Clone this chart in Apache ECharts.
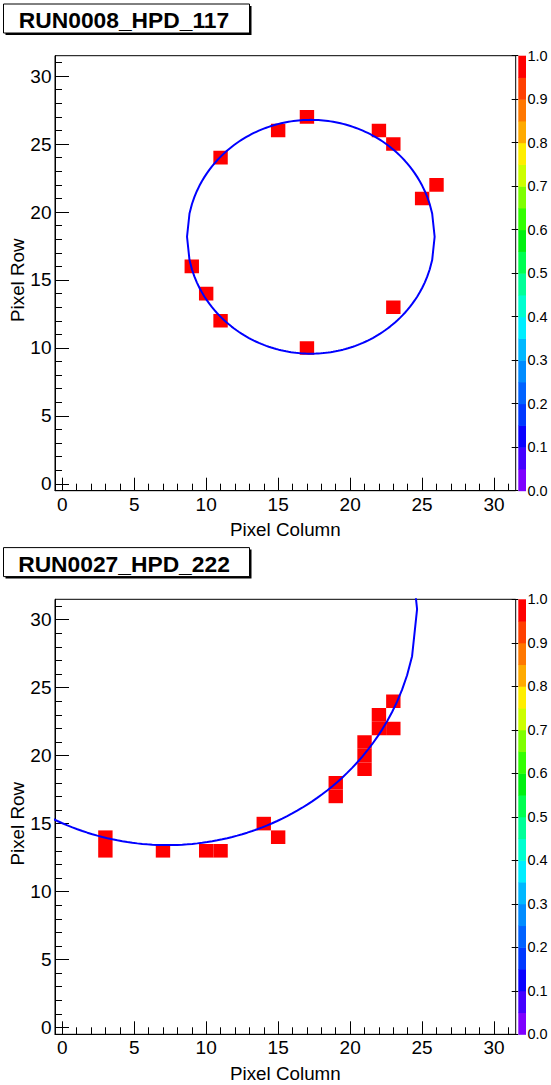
<!DOCTYPE html>
<html><head><meta charset="utf-8">
<script src="https://cdn.jsdelivr.net/npm/echarts@6/dist/echarts.min.js"></script>
<style>html,body{margin:0;padding:0;background:#fff}#c{width:551px;height:1085px}</style>
</head><body><div id="c"></div>
<script>
// ---------- data ----------
const panelTitles = ['RUN0008_HPD_117', 'RUN0027_HPD_222'];
// [pixel column, pixel row, content]
const hitsTop = [[17,27,1],[15,26,1],[22,26,1],[23,25,1],[11,24,1],[26,22,1],[25,21,1],
                 [9,16,1],[10,14,1],[11,12,1],[23,13,1],[17,10,1]];
const hitsBottom = [[3,14,1],[3,13,1],[7,13,1],[10,13,1],[11,13,1],[14,15,1],[15,14,1],
                    [19,18,1],[19,17,1],[21,21,1],[21,20,1],[21,19,1],[22,23,1],[22,22,1],
                    [23,22,1],[23,24,1]];
// fitted ring: [centre column, centre row, radius]
const ringTop = [17.27, 18.18, 8.6];
const ringBottom = [7.3, 30.77, 17.35];
const majorTicks = [0,5,10,15,20,25,30];
const minorTicks = [0,1,2,3,4,5,6,7,8,9,10,11,12,13,14,15,16,17,18,19,20,21,22,23,24,25,26,27,28,29,30,31];
const axisRange = [-0.5, 31.5];
const zRange = [0, 1];
const palette = ['#7f00ff','#4400ff','#0a00ff','#0038ff','#0062ff','#008cff','#00b8ff','#00eeff',
                 '#00ffd0','#00ff98','#00ff50','#00f010','#33ff00','#7fff00','#ccff00','#ffee00',
                 '#ffaa00','#ff7700','#ff3f00','#ff0000'];
const xTitle = 'Pixel Column';
const yTitle = 'Pixel Row';

// ---------- helpers ----------
function colorFor(v) {
  const n = palette.length;
  let i = Math.floor((v - zRange[0]) / (zRange[1] - zRange[0]) * n);
  if (i >= n) i = n - 1; if (i < 0) i = 0;
  return palette[i];
}
function ringPoints(ring, n) {
  const [cx, cy, r] = ring;
  const lower = [], upper = [];
  for (let i = 0; i <= n; i++) {
    const x = cx - r + 2 * r * i / n;
    const d = Math.sqrt(Math.max(0, r * r - (x - cx) * (x - cx)));
    lower.push([x, cy - d]);
    upper.push([x, cy + d]);
  }
  return lower.concat(upper.reverse());
}

const FONT = 'Liberation Sans, Arial, Helvetica, sans-serif';
const panelTop = [55.7, 599.3];
const plotLeft = 55, plotW = 460.7, plotH = 435;
const offs = [0, 543.6];

const grid = [], xAxis = [], yAxis = [], series = [], graphic = [];
[0, 1].forEach(p => {
  grid.push({left: plotLeft, top: panelTop[p], width: plotW, height: plotH,
             containLabel: false, outerBoundsMode: 'none',
             show: true, borderColor: '#000', borderWidth: 1, backgroundColor: 'rgba(0,0,0,0)'});
});
[0, 1].forEach(p => {
  grid.push({left: 518.3, top: panelTop[p], width: 7.7, height: plotH,
             containLabel: false, outerBoundsMode: 'none'});
});

[0, 1].forEach(p => {
  // major x axis
  xAxis.push({gridIndex: p, type: 'value', min: axisRange[0], max: axisRange[1], position: 'bottom',
    axisLine: {show: true, onZero: false, lineStyle: {color: '#000', width: 1}},
    axisTick: {show: true, inside: true, length: 13, customValues: majorTicks, lineStyle: {color: '#000', width: 1}},
    axisLabel: {show: true, customValues: majorTicks, fontSize: 19, margin: 4, color: '#000', fontFamily: FONT},
    splitLine: {show: false},
    name: xTitle, nameLocation: 'middle', nameGap: 29.5, nameMoveOverlap: false,
    nameTextStyle: {fontSize: 18.8, color: '#000', fontFamily: FONT}});
  // minor x axis
  xAxis.push({gridIndex: p, type: 'value', min: axisRange[0], max: axisRange[1], position: 'bottom',
    axisLine: {show: false, onZero: false},
    axisTick: {show: true, inside: true, length: 7, customValues: minorTicks, lineStyle: {color: '#000', width: 1}},
    axisLabel: {show: false}, splitLine: {show: false}});
  // major y axis
  yAxis.push({gridIndex: p, type: 'value', min: axisRange[0], max: axisRange[1], position: 'left',
    axisLine: {show: true, onZero: false, lineStyle: {color: '#000', width: 1}},
    axisTick: {show: true, inside: true, length: 14, customValues: majorTicks, lineStyle: {color: '#000', width: 1}},
    axisLabel: {show: true, customValues: majorTicks, fontSize: 19, margin: 3.5, color: '#000', fontFamily: FONT},
    splitLine: {show: false},
    name: yTitle, nameLocation: 'middle', nameGap: 28.5, nameMoveOverlap: false,
    nameTextStyle: {fontSize: 18.8, color: '#000', fontFamily: FONT, padding: [0, 14, 0, 0]}});
  // minor y axis
  yAxis.push({gridIndex: p, type: 'value', min: axisRange[0], max: axisRange[1], position: 'left',
    axisLine: {show: false, onZero: false},
    axisTick: {show: true, inside: true, length: 7, customValues: minorTicks, lineStyle: {color: '#000', width: 1}},
    axisLabel: {show: false}, splitLine: {show: false}});
});
[0, 1].forEach(p => {
  xAxis.push({gridIndex: 2 + p, type: 'value', min: 0, max: 1, show: false});
});
[0, 1].forEach(p => {
  yAxis.push({gridIndex: 2 + p, type: 'value', min: zRange[0], max: zRange[1], interval: 0.1, position: 'left',
    axisLine: {show: false, onZero: false},
    axisTick: {show: true, inside: false, length: 6.6, lineStyle: {color: '#000', width: 1}},
    axisLabel: {show: false}, splitLine: {show: false}});
  yAxis.push({gridIndex: 2 + p, type: 'value', min: zRange[0], max: zRange[1], interval: 0.1, position: 'right',
    axisLine: {show: false, onZero: false}, axisTick: {show: false},
    axisLabel: {show: true, margin: 1.5, fontSize: 14.5, color: '#000', fontFamily: FONT,
                formatter: v => v.toFixed(1)},
    splitLine: {show: false}});
});

const hitSets = [hitsTop, hitsBottom];
const rings = [ringTop, ringBottom];
[0, 1].forEach(p => {
  series.push({
    type: 'custom', xAxisIndex: p * 2, yAxisIndex: p * 2, data: hitSets[p],
    encode: {x: 0, y: 1}, clip: true, silent: true,
    renderItem: (params, api) => {
      const c = api.value(0), r = api.value(1), v = api.value(2);
      const a = api.coord([c - 0.5, r + 0.5]);
      const b = api.coord([c + 0.5, r - 0.5]);
      return {type: 'rect', shape: {x: a[0], y: a[1], width: b[0] - a[0], height: b[1] - a[1]},
              style: {fill: colorFor(v), stroke: null}};
    }
  });
  series.push({
    type: 'line', xAxisIndex: p * 2, yAxisIndex: p * 2, data: ringPoints(rings[p], 100),
    showSymbol: false, symbol: 'none', clip: true, silent: true, z: 5,
    lineStyle: {color: '#0000ff', width: 2}
  });
  series.push({
    type: 'custom', xAxisIndex: 4 + p, yAxisIndex: 4 + p * 2,
    data: palette.map((col, i) => [i]), silent: true,
    renderItem: (params, api) => {
      const i = api.value(0);
      const step = (zRange[1] - zRange[0]) / palette.length;
      const a = api.coord([0, zRange[0] + (i + 1) * step]);
      const b = api.coord([1, zRange[0] + i * step]);
      return {type: 'rect', shape: {x: a[0], y: a[1], width: b[0] - a[0], height: b[1] - a[1] + 0.5},
              style: {fill: palette[i]}};
    }
  });
  // title box (ROOT style, with drop shadow)
  graphic.push({type: 'rect', shape: {x: 5.5, y: 6 + offs[p], width: 246, height: 29}, style: {fill: '#000'}, z: 10});
  graphic.push({type: 'rect', shape: {x: 3.5, y: 4 + offs[p], width: 246, height: 29},
                style: {fill: '#fff', stroke: '#000', lineWidth: 1}, z: 11});
  graphic.push({type: 'text', x: 124, y: 20 + offs[p], z: 12,
                style: {text: panelTitles[p], font: 'bold 22.8px ' + FONT, fill: '#000',
                        textAlign: 'center', textVerticalAlign: 'middle'}});
});

const chart = echarts.init(document.getElementById('c'), null, {renderer: 'svg', width: 551, height: 1085});
chart.setOption({
  animation: false,
  backgroundColor: '#fff',
  textStyle: {fontFamily: FONT},
  grid, xAxis, yAxis, series, graphic
});
</script>
</body></html>
